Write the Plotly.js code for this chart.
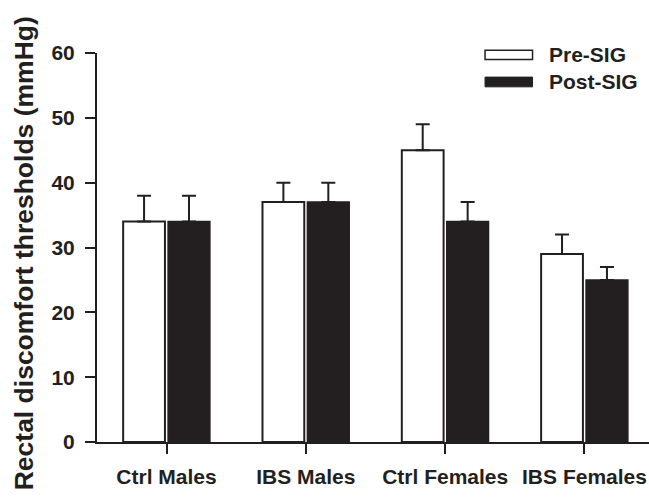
<!DOCTYPE html>
<html>
<head>
<meta charset="utf-8">
<script src="https://cdn.plot.ly/plotly-3.0.1.min.js"></script>
<style>
  html, body { margin: 0; padding: 0; background: #fff; }
  #chart { width: 649px; height: 497px; }
</style>
</head>
<body>
<div id="chart"></div>
<script>
// ---- data ----
const categories = ["Ctrl Males", "IBS Males", "Ctrl Females", "IBS Females"];
const seriesNames = ["Pre-SIG", "Post-SIG"];
const preValues = [34, 37, 45, 29];
const preErrors = [4, 3, 4, 3];
const postValues = [34, 37, 34, 25];
const postErrors = [4, 3, 3, 2];
const yTickValues = [0, 10, 20, 30, 40, 50, 60];
const yTitle = "Rectal discomfort thresholds (mmHg)";

// ---- style ----
const ink = "#231f20";
const fontFamily = "Liberation Sans, Arial, Helvetica, sans-serif";
const tickFont = { family: fontFamily, size: 21, color: ink, weight: "bold" };

function errorSpec(errs) {
  return {
    type: "data",
    symmetric: false,
    array: errs,
    arrayminus: errs.map(() => 0),
    color: ink,
    thickness: 2,
    width: 7
  };
}

const traces = [
  {
    type: "bar",
    name: seriesNames[0],
    x: categories,
    y: preValues,
    marker: { color: "#ffffff", line: { color: ink, width: 2 } },
    error_y: errorSpec(preErrors),
    showlegend: false
  },
  {
    type: "bar",
    name: seriesNames[1],
    x: categories,
    y: postValues,
    marker: { color: ink, line: { color: ink, width: 1.5 } },
    error_y: errorSpec(postErrors),
    showlegend: false
  }
];

// custom legend (wide flat swatches as in the original)
const legendShapes = [
  { type: "rect", xref: "paper", yref: "paper", x0: 0.703, x1: 0.789, y0: 0.983, y1: 1.007,
    line: { color: ink, width: 1.5 }, fillcolor: "#ffffff" },
  { type: "rect", xref: "paper", yref: "paper", x0: 0.703, x1: 0.789, y0: 0.913, y1: 0.938,
    line: { color: ink, width: 1 }, fillcolor: ink }
];
const legendAnnotations = [
  { xref: "paper", yref: "paper", x: 0.816, y: 0.996, text: seriesNames[0], showarrow: false,
    xanchor: "left", yanchor: "middle", font: tickFont },
  { xref: "paper", yref: "paper", x: 0.816, y: 0.926, text: seriesNames[1], showarrow: false,
    xanchor: "left", yanchor: "middle", font: tickFont }
];

// y-axis title as a rotated annotation (slightly below the plot centre, as in the original)
const titleAnnotation = {
  xref: "paper", yref: "paper", x: -0.133, y: 0.484,
  xanchor: "center", yanchor: "middle",
  text: yTitle, textangle: -90, showarrow: false,
  font: { family: fontFamily, size: 26.5, color: ink, weight: "bold" }
};

const layout = {
  width: 649,
  height: 497,
  margin: { l: 97, r: 0, t: 53, b: 55 },
  paper_bgcolor: "#ffffff",
  plot_bgcolor: "#ffffff",
  barmode: "group",
  bargap: 0.355,
  bargroupgap: 0.07,
  showlegend: false,
  font: { family: fontFamily, color: ink },
  xaxis: {
    type: "category",
    range: [-0.499, 3.463],
    showline: true,
    linecolor: ink,
    linewidth: 2,
    ticks: "outside",
    ticklen: 10,
    tickwidth: 2,
    tickcolor: ink,
    tickfont: tickFont,
    ticklabelstandoff: 5,
    showgrid: false,
    zeroline: false,
    fixedrange: true
  },
  yaxis: {
    range: [0, 60],
    tickvals: yTickValues,
    showline: true,
    linecolor: ink,
    linewidth: 2,
    ticks: "outside",
    ticklen: 10,
    tickwidth: 2,
    tickcolor: ink,
    tickfont: tickFont,
    ticklabelstandoff: 6,
    showgrid: false,
    zeroline: false,
    fixedrange: true
  },
  shapes: legendShapes,
  annotations: legendAnnotations.concat([titleAnnotation])
};

Plotly.newPlot("chart", traces, layout, { displayModeBar: false, staticPlot: true });
</script>
</body>
</html>
